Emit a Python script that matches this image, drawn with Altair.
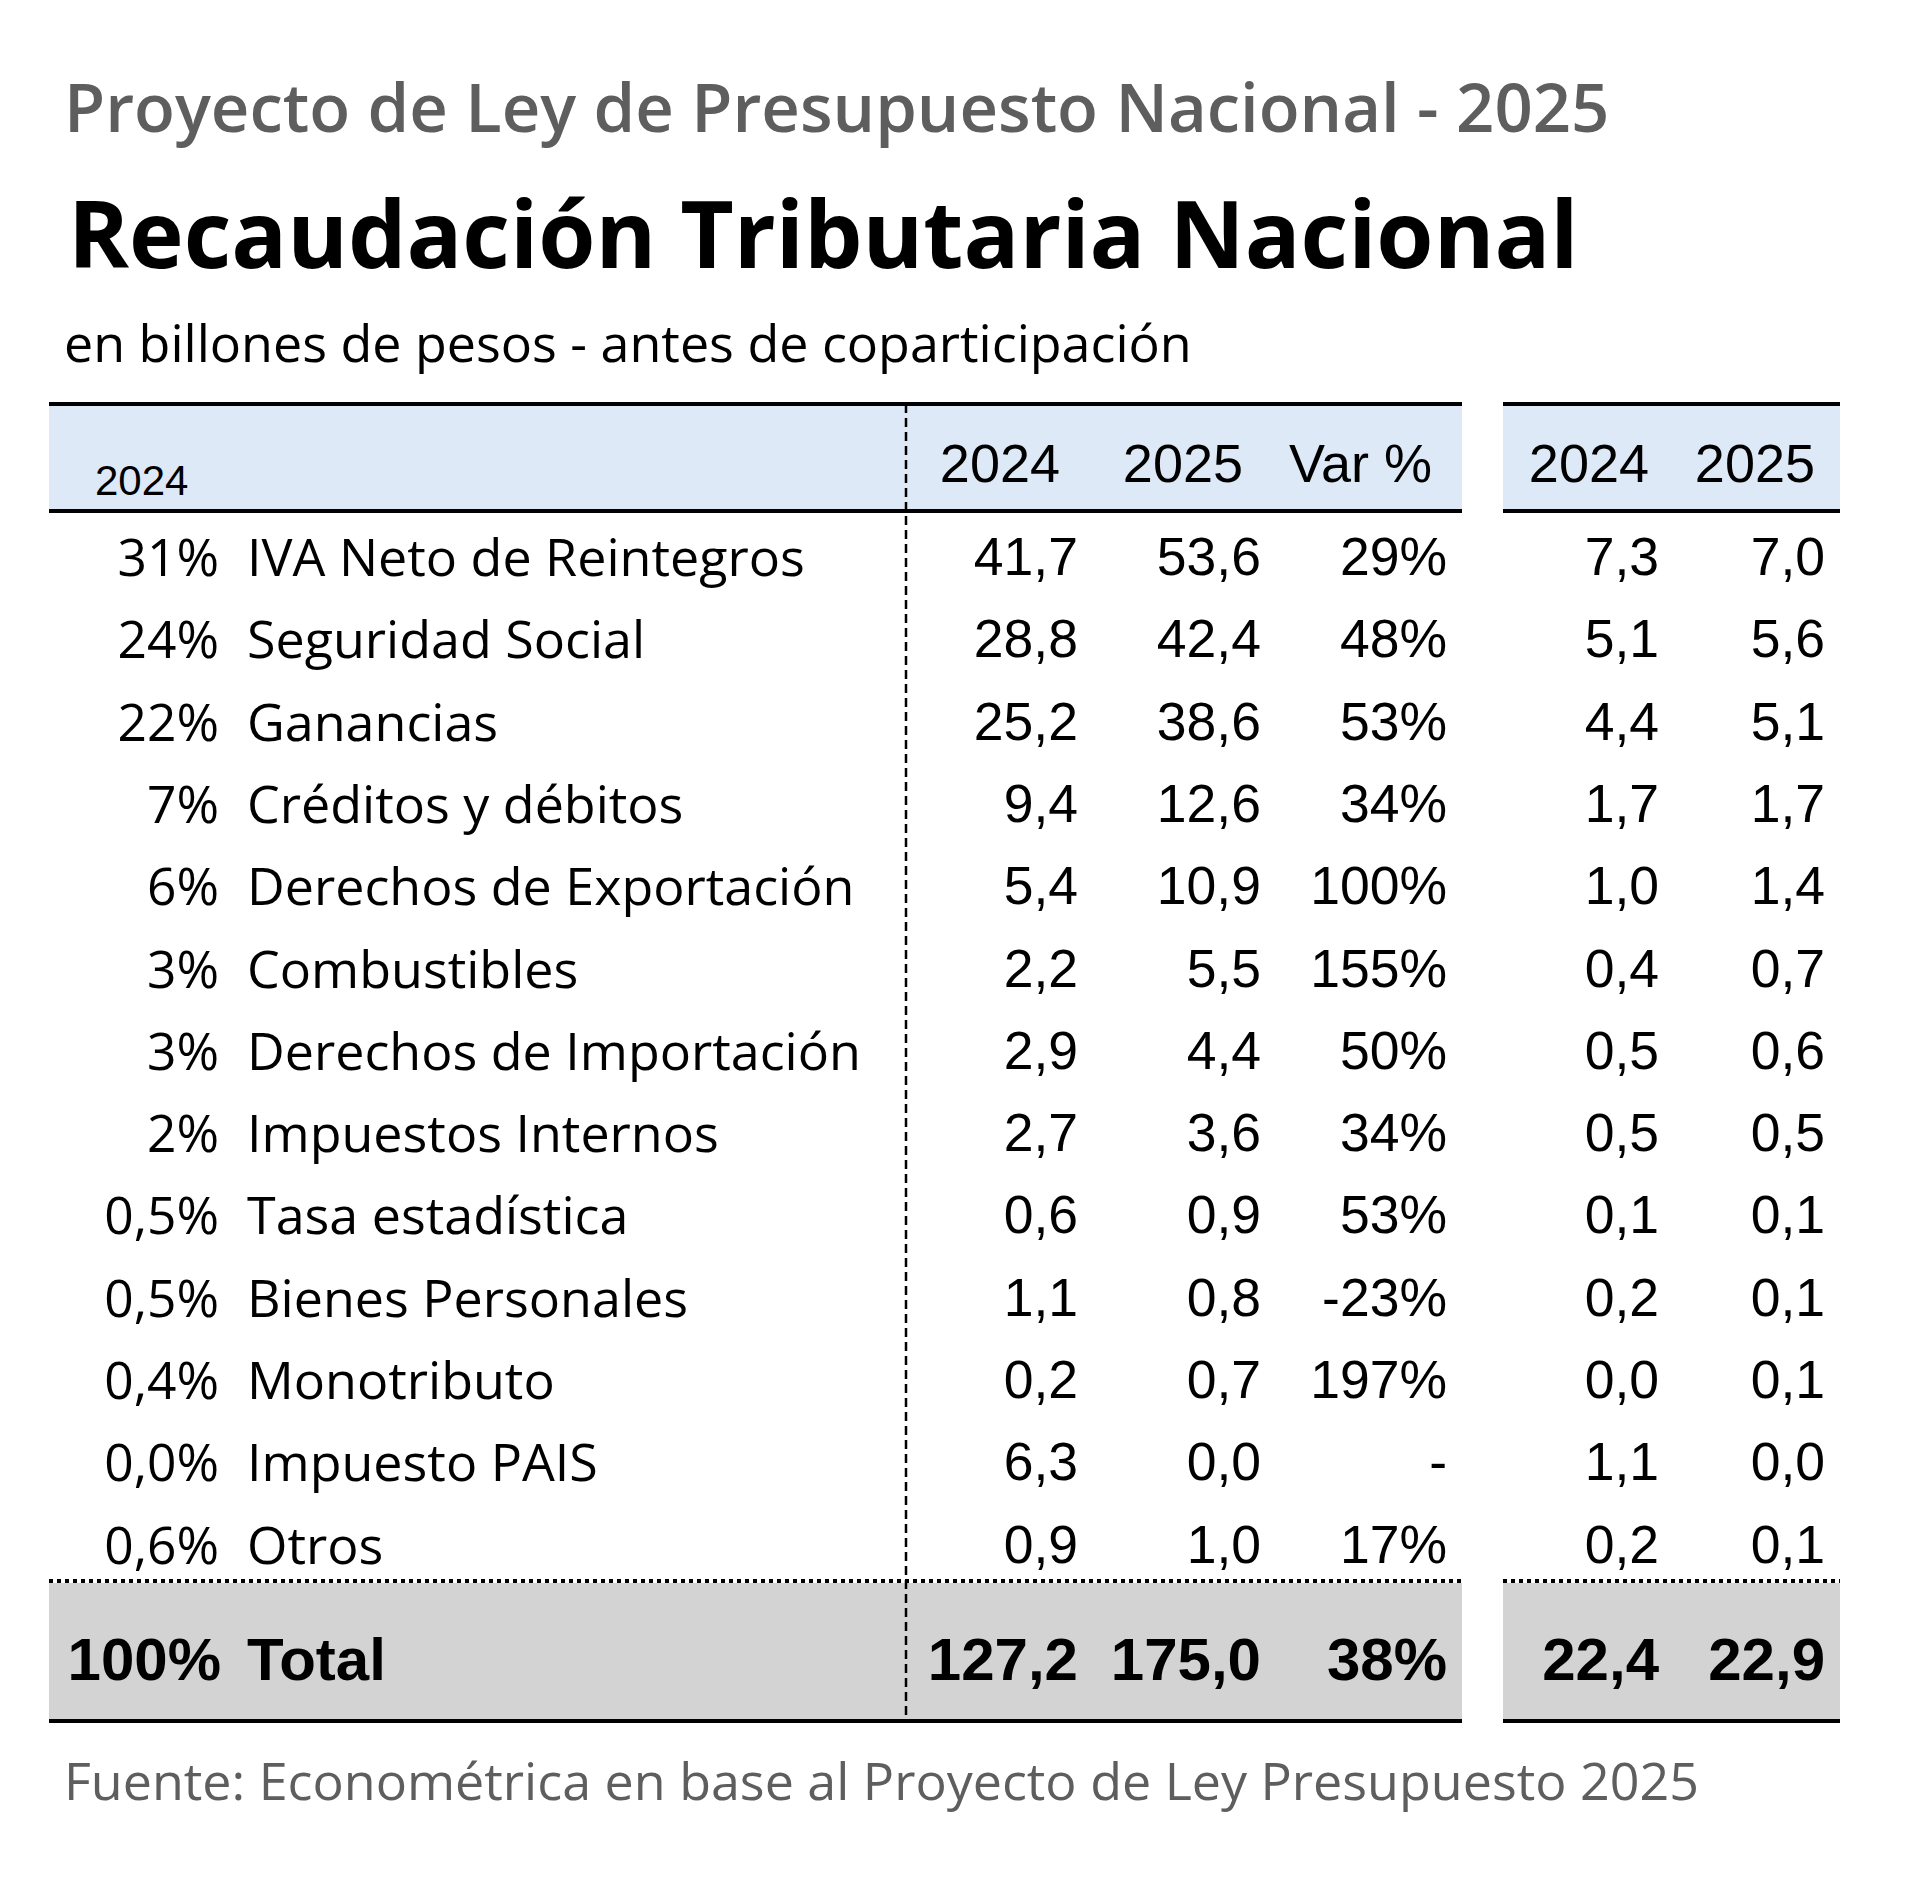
import altair as alt
import pandas as pd

# ---------------- data ----------------
categories = ["IVA Neto de Reintegros", "Seguridad Social", "Ganancias",
              "Créditos y débitos", "Derechos de Exportación", "Combustibles",
              "Derechos de Importación", "Impuestos Internos", "Tasa estadística",
              "Bienes Personales", "Monotributo", "Impuesto PAIS", "Otros"]
share = [31, 24, 22, 7, 6, 3, 3, 2, 0.5, 0.5, 0.4, 0.0, 0.6]
rec_2024 = [41.7, 28.8, 25.2, 9.4, 5.4, 2.2, 2.9, 2.7, 0.6, 1.1, 0.2, 6.3, 0.9]
rec_2025 = [53.6, 42.4, 38.6, 12.6, 10.9, 5.5, 4.4, 3.6, 0.9, 0.8, 0.7, 0.0, 1.0]
var_pct = [29, 48, 53, 34, 100, 155, 50, 34, 53, -23, 197, None, 17]
pib_2024 = [7.3, 5.1, 4.4, 1.7, 1.0, 0.4, 0.5, 0.5, 0.1, 0.2, 0.0, 1.1, 0.2]
pib_2025 = [7.0, 5.6, 5.1, 1.7, 1.4, 0.7, 0.6, 0.5, 0.1, 0.1, 0.1, 0.0, 0.1]
total_label = "Total"
total_share = 100
total_values = [127.2, 175.0, 38, 22.4, 22.9]
header_left = "2024"
col_headers = ["2024", "2025", "Var %", "2024", "2025"]
title_top = "Proyecto de Ley de Presupuesto Nacional - 2025"
title_main = "Recaudación Tributaria Nacional"
subtitle = "en billones de pesos - antes de coparticipación"
source = "Fuente: Econométrica en base al Proyecto de Ley Presupuesto 2025"

# ---------------- formatting ----------------
def fnum(v):
    return f"{v:.1f}".replace(".", ",")

def fshare(s):
    return f"{s:.0f}%" if s >= 1 else f"{s:.1f}%".replace(".", ",")

def fvar(v):
    return "-" if v is None else f"{v:.0f}%"

# ---------------- layout (page pixels) ----------------
W, H = 1900, 1860
L_X0, L_X1 = 49, 1462
R_X0, R_X1 = 1503, 1840
TOP_Y, HEAD_Y, DOT_Y, BOT_Y = 404, 511, 1581, 1721
VX = 906
ROW0_LABEL, ROW0_NUM, ROW_H = 576, 575, 82.3
PCT_RIGHT, LABEL_LEFT = 219, 247
NUM_RIGHT = [1078, 1261, 1447, 1659, 1825]
HEAD_RIGHT = [1060, 1243, 1432, 1649, 1815]

XS = alt.Scale(domain=[8, 8 + W], nice=False, zero=False)
YS = alt.Scale(domain=[8, 8 + H], nice=False, zero=False, reverse=True)


def text_layer(rows, font, size, weight="normal", color="#000000", align="left"):
    df = pd.DataFrame(rows, columns=["x", "y", "t"])
    return alt.Chart(df).mark_text(
        font=font, fontSize=size, fontWeight=weight, color=color,
        align=align, baseline="alphabetic"
    ).encode(
        x=alt.X("x:Q", scale=XS, axis=None),
        y=alt.Y("y:Q", scale=YS, axis=None),
        text="t:N",
    )

# bands
bands = pd.DataFrame([
    {"x": L_X0, "x2": L_X1, "y": TOP_Y + 2, "y2": HEAD_Y - 2, "c": "#dde9f6"},
    {"x": R_X0, "x2": R_X1, "y": TOP_Y + 2, "y2": HEAD_Y - 2, "c": "#dde9f6"},
    {"x": L_X0, "x2": L_X1, "y": DOT_Y + 2, "y2": BOT_Y - 2, "c": "#d3d3d3"},
    {"x": R_X0, "x2": R_X1, "y": DOT_Y + 2, "y2": BOT_Y - 2, "c": "#d3d3d3"},
])
band_layer = alt.Chart(bands).mark_rect().encode(
    x=alt.X("x:Q", scale=XS, axis=None), x2="x2:Q",
    y=alt.Y("y:Q", scale=YS, axis=None), y2="y2:Q",
    color=alt.Color("c:N", scale=None),
)

solid = pd.DataFrame([
    {"x": L_X0, "x2": L_X1, "y": TOP_Y},
    {"x": R_X0, "x2": R_X1, "y": TOP_Y},
    {"x": L_X0, "x2": L_X1, "y": HEAD_Y},
    {"x": R_X0, "x2": R_X1, "y": HEAD_Y},
    {"x": L_X0, "x2": L_X1, "y": BOT_Y},
    {"x": R_X0, "x2": R_X1, "y": BOT_Y},
])
solid_layer = alt.Chart(solid).mark_rule(color="#000000", strokeWidth=4).encode(
    x=alt.X("x:Q", scale=XS, axis=None), x2="x2:Q",
    y=alt.Y("y:Q", scale=YS, axis=None),
)

dotted = pd.DataFrame([
    {"x": L_X0, "x2": L_X1, "y": DOT_Y},
    {"x": R_X0, "x2": R_X1, "y": DOT_Y},
])
dotted_layer = alt.Chart(dotted).mark_rule(color="#000000", strokeWidth=4,
                                           strokeDash=[4, 4]).encode(
    x=alt.X("x:Q", scale=XS, axis=None), x2="x2:Q",
    y=alt.Y("y:Q", scale=YS, axis=None),
)

vdash = pd.DataFrame([{"x": VX, "y": TOP_Y, "y2": BOT_Y}])
vdash_layer = alt.Chart(vdash).mark_rule(color="#000000", strokeWidth=2.5,
                                         strokeDash=[9, 5]).encode(
    x=alt.X("x:Q", scale=XS, axis=None),
    y=alt.Y("y:Q", scale=YS, axis=None), y2="y2:Q",
)

# titles
t1 = text_layer([(64, 132, title_top)], "Open Sans", 67, 600, "#5e5e5e")
t2 = text_layer([(68, 268, title_main)], "Open Sans", 92.5, "bold", "#000000")
t3 = text_layer([(64, 362, subtitle)], "Open Sans", 52, "normal", "#000000")
t4 = text_layer([(64, 1800, source)], "Open Sans", 52, "normal", "#5e5e5e")

# header
h_small = text_layer([(95, 495, header_left)], "Liberation Sans", 42)
h_cols = text_layer([(HEAD_RIGHT[i], 482, col_headers[i]) for i in range(5)],
                    "Liberation Sans", 54, align="right")

# rows
pct_rows, lab_rows, num_rows = [], [], []
for i, cat in enumerate(categories):
    yl = ROW0_LABEL + ROW_H * i
    yn = ROW0_NUM + ROW_H * i
    pct_rows.append((PCT_RIGHT, yl, fshare(share[i])))
    lab_rows.append((LABEL_LEFT, yl, cat))
    vals = [fnum(rec_2024[i]), fnum(rec_2025[i]), fvar(var_pct[i]),
            fnum(pib_2024[i]), fnum(pib_2025[i])]
    for j, v in enumerate(vals):
        num_rows.append((NUM_RIGHT[j], yn, v))

pct_layer = text_layer(pct_rows, "Open Sans", 51.5, align="right")
lab_layer = text_layer(lab_rows, "Open Sans", 52)
num_layer = text_layer(num_rows, "Liberation Sans", 53.5, align="right")

# total
TOT_Y = 1680
tot_vals = [fnum(total_values[0]), fnum(total_values[1]), f"{total_values[2]:.0f}%",
            fnum(total_values[3]), fnum(total_values[4])]
tot_pct = text_layer([(221, TOT_Y, f"{total_share}%")], "Liberation Sans", 60, "bold", align="right")
tot_lab = text_layer([(247, TOT_Y, total_label)], "Liberation Sans", 60, "bold")
tot_num = text_layer([(NUM_RIGHT[j], TOT_Y, tot_vals[j]) for j in range(5)],
                     "Liberation Sans", 60, "bold", align="right")

chart = alt.layer(
    band_layer, solid_layer, dotted_layer, vdash_layer,
    t1, t2, t3, t4, h_small, h_cols, pct_layer, lab_layer, num_layer,
    tot_pct, tot_lab, tot_num,
).properties(
    width=W, height=H, padding=0, autosize=alt.AutoSizeParams(type="none"),
    background="#ffffff",
).configure_view(stroke=None)

chart.save("out.html", embed_options={"renderer": "svg", "actions": False})
